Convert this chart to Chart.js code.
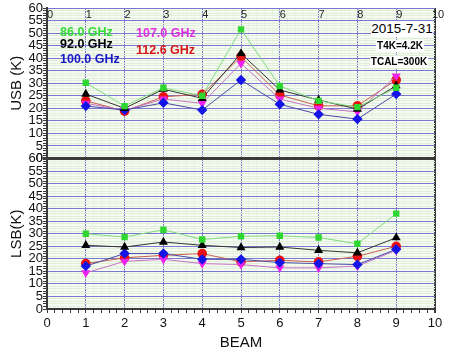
<!DOCTYPE html>
<html>
<head>
<meta charset="utf-8">
<script src="https://cdn.jsdelivr.net/npm/chart.js@4"></script>
<style>
  body { margin: 0; background: #fff; font-family: "Liberation Sans", Arial, sans-serif; }
  #wrap { position: relative; width: 452px; height: 352px; }
  .lbl { position: absolute; font-weight: bold; font-size: 12.5px; line-height: 14px; white-space: nowrap; }
  .note { position: absolute; background: #fff; color: #000; text-align: center; white-space: nowrap; }
</style>
</head>
<body>
<div id="wrap">
  <canvas id="chart" width="452" height="352"></canvas>
  <div class="lbl" style="left:60px;top:25px;color:#33dd33">86.0 GHz</div>
  <div class="lbl" style="left:60px;top:37px;color:#000">92.0 GHz</div>
  <div class="lbl" style="left:60px;top:52px;color:#1818c8">100.0 GHz</div>
  <div class="lbl" style="left:136px;top:26px;color:#e030e0">107.0 GHz</div>
  <div class="lbl" style="left:136px;top:43px;color:#d81818">112.6 GHz</div>
  <div class="note" style="left:371px;top:21px;width:62px;font-size:13.5px;line-height:16px">2015-7-31</div>
  <div class="note" style="left:376px;top:40px;width:48px;font-size:10px;font-weight:bold;line-height:12px">T4K=4.2K</div>
  <div class="note" style="left:370px;top:56px;width:58px;font-size:10px;font-weight:bold;line-height:12px">TCAL=300K</div>
</div>
<script>
// beam numbers (x) and temperatures
const beams = [1, 2, 3, 4, 5, 6, 7, 8, 9];
const topLabels = ["0", "1", "2", "3", "4", "5", "6", "7", "8", "9", "10"];

const usb86 = [30.2, 20.9, 28.2, 25.0, 51.5, 28.9, 23.0, 20.5, 28.2];
const usb92 = [25.7, 20.0, 27.6, 24.0, 41.9, 27.3, 23.3, 19.7, 29.0];
const usb100 = [20.9, 19.3, 22.2, 19.3, 31.3, 21.6, 17.6, 15.7, 25.7];
const usb107 = [22.0, 19.2, 23.7, 22.0, 37.9, 23.7, 20.0, 18.6, 32.9];
const usb112 = [23.0, 18.9, 24.6, 25.6, 40.6, 25.3, 21.0, 21.0, 31.3];

const lsb86 = [30.0, 28.7, 31.6, 27.7, 29.0, 29.2, 28.5, 26.0, 38.0];
const lsb92 = [25.4, 24.7, 26.7, 25.4, 24.5, 24.7, 23.4, 22.4, 28.4];
const lsb100 = [17.1, 22.1, 22.1, 19.8, 19.8, 18.5, 18.1, 17.7, 23.8];
const lsb107 = [14.4, 19.0, 19.8, 18.1, 17.7, 16.4, 16.4, 17.1, 23.4];
const lsb112 = [18.1, 20.4, 21.4, 22.1, 18.8, 19.4, 18.8, 21.0, 25.0];

const MAJOR = "#7878cc";
const MINOR = "#e0efd9";
const DARK = "#3a3a3a";

const pts = (arr) => beams.map((b, i) => ({ x: b, y: arr[i] }));

const series = [
  { v: [usb86, lsb86], color: "#2fd62f", line: "#7fdc7f", style: "rect", r: 4.5, rot: 0 },
  { v: [usb92, lsb92], color: "#000000", line: "#333333", style: "triangle", r: 5.2, rot: 0 },
  { v: [usb100, lsb100], color: "#1414e6", line: "#4a4aa8", style: "rectRot", r: 5.2, rot: 0 },
  { v: [usb107, lsb107], color: "#ee22ee", line: "#c870c8", style: "triangle", r: 5.2, rot: 180 },
  { v: [usb112, lsb112], color: "#e81010", line: "#c86050", style: "circle", r: 4.8, rot: 0 }
];

const datasets = [];
["usb", "lsb"].forEach((axis, k) => {
  series.forEach(s => {
    datasets.push({
      data: pts(s.v[k]),
      yAxisID: axis,
      borderColor: s.line,
      borderWidth: 1,
      backgroundColor: s.color,
      pointBackgroundColor: s.color,
      pointBorderColor: s.color,
      pointBorderWidth: 0,
      pointStyle: s.style,
      pointRadius: s.r,
      pointRotation: s.rot,
      tension: 0
    });
  });
});

const isInt = (v) => Math.abs(v - Math.round(v)) < 1e-6;

const yAxis = (title, divider) => ({
  type: "linear",
  position: "left",
  stack: "beam",
  stackWeight: 1,
  min: 0,
  max: 60,
  afterFit: (s) => { s.width = 47; },
  border: { color: DARK, width: 2 },
  grid: {
    color: (c) => c.tick.value === divider ? DARK : (c.tick.value % 5 === 0 ? MAJOR : MINOR),
    lineWidth: (c) => c.tick.value === divider ? 3 : 1,
    tickColor: DARK,
    tickLength: 4
  },
  ticks: {
    stepSize: 1,
    autoSkip: false,
    padding: 0,
    color: "#111",
    font: { family: "Liberation Sans", size: 13 },
    callback: (v) => v % 5 === 0 ? String(v) : ""
  },
  title: {
    display: true,
    text: title,
    color: "#111",
    font: { family: "Liberation Sans", size: 15 },
    padding: { top: 8, bottom: 0 }
  }
});

const topLabelPlugin = {
  id: "topLabels",
  beforeDraw(chart) {
    const { ctx, chartArea } = chart;
    ctx.save();
    ctx.fillStyle = "#f7fbf3";
    ctx.fillRect(chartArea.left, chartArea.top, chartArea.right - chartArea.left, chartArea.bottom - chartArea.top);
    ctx.restore();
  },
  afterDatasetsDraw(chart) {
    const { ctx, chartArea } = chart;
    const x = chart.scales.x;
    ctx.save();
    ctx.font = "11px 'Liberation Sans'";
    ctx.fillStyle = "#222";
    ctx.textAlign = "center";
    ctx.textBaseline = "middle";
    topLabels.forEach((t, i) => {
      ctx.fillText(t, x.getPixelForValue(i) + 3, chartArea.top + 7);
    });
    ctx.restore();
  }
};

new Chart(document.getElementById("chart"), {
  type: "line",
  data: { datasets },
  plugins: [topLabelPlugin],
  options: {
    responsive: false,
    animation: false,
    layout: { padding: { top: 8, right: 17, left: 0, bottom: 0 } },
    plugins: { legend: { display: false }, tooltip: { enabled: false } },
    scales: {
      x: {
        type: "linear",
        position: "bottom",
        min: 0,
        max: 10,
        afterFit: (s) => { s.height = 43; },
        border: { color: DARK, width: 2 },
        grid: {
          color: (c) => c.tick.value === 10 ? DARK : (isInt(c.tick.value) ? MAJOR : "#eaf4e4"),
          lineWidth: (c) => c.tick.value === 10 ? 2 : 1,
          tickColor: DARK,
          tickLength: 4
        },
        ticks: {
          stepSize: 0.2,
          autoSkip: false,
          maxRotation: 0,
          padding: 3,
          color: "#111",
          font: { family: "Liberation Sans", size: 13 },
          callback: (v) => isInt(v) ? String(Math.round(v)) : ""
        },
        title: {
          display: true,
          text: "BEAM",
          color: "#111",
          font: { family: "Liberation Sans", size: 15 },
          padding: { top: 0, bottom: 0 }
        }
      },
      lsb: yAxis("LSB(K)", 60),
      usb: yAxis("USB (K)", 0)
    }
  }
});
</script>
</body>
</html>
